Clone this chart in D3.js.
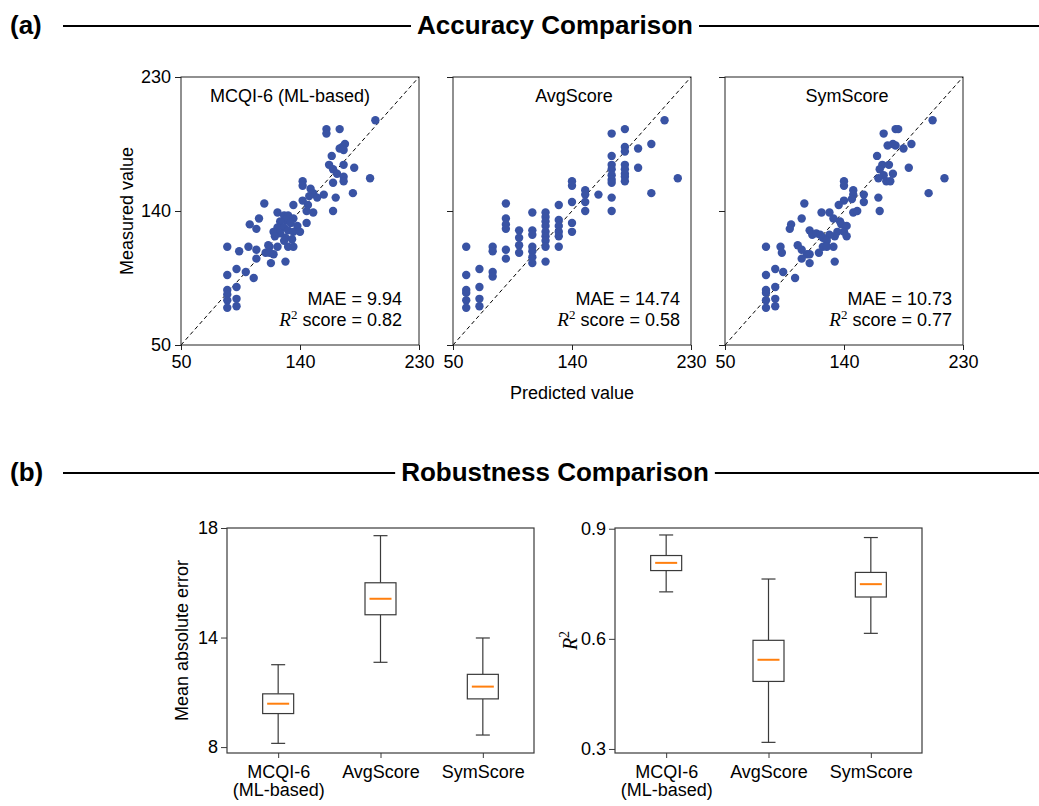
<!DOCTYPE html>
<html>
<head>
<meta charset="utf-8">
<script src="https://cdn.jsdelivr.net/npm/d3@7"></script>
<style>
body { margin: 0; background: #fff; }
text { font-family: "Liberation Sans", Arial, sans-serif; fill: #000; }
</style>
</head>
<body>
<script>
// Values.
var panelNames = ["MCQI-6 (ML-based)", "AvgScore", "SymScore"];
var maeVals = ["9.94", "14.74", "10.73"];
var r2Vals = ["0.82", "0.58", "0.77"];
var scatterTicks = [50, 140, 230];

var mcqiPred = [197,160,160,170,174,172,170,173,164,162,
                173,181,165,168,173,173,165,193,142,142,
                148,150,147,153,158,167,180,113,135,142,
                146,145,150,165,123,128,131,129,135,133,
                138,145,109,102,107,125,123,128,120,125,
                131,135,140,121,129,134,128,117,85,94,
                101,107,116,123,131,135,114,120,117,107,
                118,129,92,85,99,105,85,92,85,85,
                92,85,92];
var mcqiMeas = [201,195,192,195,185,183,182,181,177,171,
                171,169,168,165,163,160,159,162,160,157,
                155,152,150,149,151,149,152,145,144,147,
                144,140,139,140,139,137,137,134,135,132,
                130,132,135,131,128,133,129,129,126,125,
                127,126,126,123,122,121,120,116,116,113,
                116,114,117,116,116,116,112,111,112,108,
                105,106,101,97,99,95,87,89,84,80,
                81,75,76];

var avgPred = [210,180,170,200,190,180,180,170,170,180,
               190,180,180,180,170,170,170,170,220,200,
               170,170,140,140,150,150,160,150,150,140,
               130,140,140,120,120,120,120,120,120,120,
               120,130,130,130,130,130,110,110,110,110,
               110,110,110,120,100,100,100,100,90,90,
               90,90,90,90,80,80,80,80,70,70,
               70,70,60,60,60,60,60,60,180];
var avgMeas = [201,195,192,185,182,183,180,177,171,171,
               169,165,163,160,168,164,161,159,162,152,
               149,140,160,157,154,151,151,146,140,146,
               144,132,126,139,136,133,130,126,123,120,
               116,134,130,126,123,116,139,127,124,116,
               113,109,105,106,127,122,117,112,145,135,
               131,128,114,108,116,113,99,96,101,89,
               81,76,116,97,87,85,80,75,168];

var symPred = [207,179,181,170,173,177,179,191,185,165,
               169,174,189,167,177,170,166,172,175,216,
               204,140,140,147,147,155,140,136,146,155,
               166,147,150,167,110,123,129,132,137,138,
               142,140,142,135,133,129,100,99,108,114,
               116,119,122,124,127,124,121,132,127,81,
               92,93,105,108,112,114,108,114,133,88,
               81,94,103,81,88,81,81,88,81,88];
var symMeas = [201,195,195,192,184,185,184,185,182,177,
               171,171,169,168,165,164,162,160,160,162,
               152,160,157,154,151,151,147,144,148,146,
               149,139,140,140,145,139,139,135,133,131,
               130,126,123,126,123,124,131,128,135,127,
               124,125,124,122,120,116,112,116,116,116,
               116,112,117,114,111,111,108,105,106,101,
               97,99,95,87,89,85,80,81,75,76];

var boxLabels = [["MCQI-6", "(ML-based)"], ["AvgScore"], ["SymScore"]];
// [lower whisker, Q1, median, Q3, upper whisker]
var maeStats = [[8.17, 9.53, 9.98, 10.43, 11.76],
                [11.87, 14.04, 14.77, 15.50, 17.65],
                [8.55, 10.20, 10.76, 11.32, 12.98]];
var r2Stats = [[0.728, 0.786, 0.807, 0.827, 0.883],
               [0.318, 0.484, 0.543, 0.596, 0.763],
               [0.615, 0.714, 0.749, 0.781, 0.876]];
var maeTicks = [8, 13, 18];
var maeTickLabels = ["8", "14", "18"];
var r2Ticks = [0.3, 0.6, 0.9];

// Layout
var width = 1039, height = 806;
var scatterLeft = [181, 453, 725], scatterTop = 77, scatterW = 238, scatterH = 268;
var titleShift = [-10, 2, 3];
var annoRight = [17, 11, 11];
var boxLeft = [227, 615], boxTop = 528, boxW = 307, boxH = 225;
var dotColor = "#3953a4", boxStroke = "#3a3a3a";

var svg = d3.select("body").append("svg")
            .attr("width", width)
            .attr("height", height);

function styleAxis(g, col) {
  g.select(".domain").remove();
  g.selectAll(".tick line").attr("stroke", col);
  g.selectAll(".tick text").style("font-size", "18px").attr("fill", "#000");
}

function header(label, title, y) {
  svg.append("text").attr("x", 10).attr("y", y + 8)
     .style("font-size", "26px").style("font-weight", "bold").text(label);
  var t = svg.append("text").attr("x", 555).attr("y", y + 8)
             .attr("text-anchor", "middle")
             .style("font-size", "26px").style("font-weight", "bold").text(title);
  var len = t.node().getComputedTextLength();
  svg.append("line").attr("x1", 63).attr("x2", 555 - len / 2 - 6)
     .attr("y1", y).attr("y2", y).attr("stroke", "#000").attr("stroke-width", 2);
  svg.append("line").attr("x1", 555 + len / 2 + 6).attr("x2", width)
     .attr("y1", y).attr("y2", y).attr("stroke", "#000").attr("stroke-width", 2);
}

header("(a)", "Accuracy Comparison", 26);
header("(b)", "Robustness Comparison", 473);

// ---- (a) scatter panels ----
var xs = d3.scaleLinear().domain([50, 230]).range([0, scatterW]);
var ys = d3.scaleLinear().domain([50, 230]).range([scatterH, 0]);
var series = [[mcqiPred, mcqiMeas], [avgPred, avgMeas], [symPred, symMeas]];

series.forEach(function(s, i) {
  var g = svg.append("g")
             .attr("transform", "translate(" + scatterLeft[i] + "," + scatterTop + ")");
  var pts = s[0].map(function(p, k) { return {p: p, m: s[1][k]}; });

  g.append("g").attr("transform", "translate(0," + scatterH + ")")
   .call(d3.axisBottom(xs).tickValues(scatterTicks).tickSize(5).tickPadding(5).tickSizeOuter(0))
   .call(styleAxis, "#222");
  g.append("g")
   .call(d3.axisLeft(ys).tickValues(scatterTicks).tickSize(6).tickPadding(4).tickSizeOuter(0)
           .tickFormat(i === 0 ? d3.format("d") : ""))
   .call(styleAxis, "#222");

  g.append("line")
   .attr("x1", xs(50)).attr("y1", ys(50)).attr("x2", xs(230)).attr("y2", ys(230))
   .attr("stroke", "#000").attr("stroke-width", 1).attr("stroke-dasharray", "4,3");

  g.selectAll("circle").data(pts).enter().append("circle")
   .attr("cx", function(d) { return xs(d.p); })
   .attr("cy", function(d) { return ys(d.m); })
   .attr("r", 4.2)
   .attr("fill", dotColor);

  g.append("rect").attr("width", scatterW).attr("height", scatterH)
   .attr("fill", "none").attr("stroke", "#222").attr("stroke-width", 1);

  g.append("text").attr("x", scatterW / 2 + titleShift[i]).attr("y", 25)
   .attr("text-anchor", "middle").style("font-size", "18px").text(panelNames[i]);

  var ax = scatterW - annoRight[i];
  g.append("text").attr("x", ax).attr("y", 228).attr("text-anchor", "end")
   .style("font-size", "18px").text("MAE = " + maeVals[i]);
  var r2 = g.append("text").attr("x", ax).attr("y", 249).attr("text-anchor", "end")
            .style("font-size", "18px");
  r2.append("tspan").style("font-family", "'Liberation Serif', serif")
    .style("font-style", "italic").style("font-size", "19px").text("R");
  r2.append("tspan").attr("dy", -7).style("font-family", "'Liberation Serif', serif")
    .style("font-size", "13px").text("2");
  r2.append("tspan").attr("dy", 7).text(" score = " + r2Vals[i]);
});

svg.append("text")
   .attr("transform", "translate(133," + (scatterTop + scatterH / 2) + ") rotate(-90)")
   .attr("text-anchor", "middle").style("font-size", "18px").text("Measured value");
svg.append("text").attr("x", scatterLeft[1] + scatterW / 2).attr("y", 399)
   .attr("text-anchor", "middle").style("font-size", "18px").text("Predicted value");

// ---- (b) box plots ----
var bx = d3.scalePoint().domain([0, 1, 2]).range([0, boxW]).padding(0.5);
var boxSets = [
  {stats: maeStats, y: d3.scaleLinear().domain([7.73, 18]).range([boxH, 0]),
   ticks: maeTicks, fmt: function(d, k) { return maeTickLabels[k]; }},
  {stats: r2Stats, y: d3.scaleLinear().domain([0.289, 0.902]).range([boxH, 0]),
   ticks: r2Ticks, fmt: d3.format(".1f")}
];

boxSets.forEach(function(b, i) {
  var g = svg.append("g").attr("transform", "translate(" + boxLeft[i] + "," + boxTop + ")");
  var y = b.y;

  g.append("g").call(d3.axisLeft(y).tickValues(b.ticks).tickSize(6).tickPadding(3).tickFormat(b.fmt))
   .call(styleAxis, boxStroke);

  var xa = g.append("g").attr("transform", "translate(0," + boxH + ")")
            .call(d3.axisBottom(bx).tickSize(5).tickSizeOuter(0))
            .call(styleAxis, boxStroke);
  xa.selectAll(".tick text").each(function(d) {
    var t = d3.select(this).text(null).attr("y", 25).attr("dy", null);
    boxLabels[d].forEach(function(line, k) {
      t.append("tspan").attr("x", 0).attr("dy", k === 0 ? 0 : 18).text(line);
    });
  });

  var boxes = g.selectAll(".box").data(b.stats).enter().append("g")
               .attr("transform", function(d, k) { return "translate(" + bx(k) + ",0)"; });
  boxes.append("line").attr("y1", function(d) { return y(d[0]); }).attr("y2", function(d) { return y(d[1]); })
       .attr("stroke", boxStroke).attr("stroke-width", 1.2);
  boxes.append("line").attr("y1", function(d) { return y(d[3]); }).attr("y2", function(d) { return y(d[4]); })
       .attr("stroke", boxStroke).attr("stroke-width", 1.2);
  [0, 4].forEach(function(j) {
    boxes.append("line").attr("x1", -7).attr("x2", 7)
         .attr("y1", function(d) { return y(d[j]); }).attr("y2", function(d) { return y(d[j]); })
         .attr("stroke", boxStroke).attr("stroke-width", 1.2);
  });
  boxes.append("rect").attr("x", -15.5).attr("width", 31)
       .attr("y", function(d) { return y(d[3]); })
       .attr("height", function(d) { return y(d[1]) - y(d[3]); })
       .attr("fill", "#fff").attr("stroke", boxStroke).attr("stroke-width", 1.2);
  boxes.append("line").attr("x1", -11).attr("x2", 11)
       .attr("y1", function(d) { return y(d[2]); }).attr("y2", function(d) { return y(d[2]); })
       .attr("stroke", "#ff7f0e").attr("stroke-width", 2);

  g.append("rect").attr("width", boxW).attr("height", boxH)
   .attr("fill", "none").attr("stroke", boxStroke).attr("stroke-width", 1.2);
});

svg.append("text")
   .attr("transform", "translate(188," + (boxTop + boxH / 2) + ") rotate(-90)")
   .attr("text-anchor", "middle").style("font-size", "18px").text("Mean absolute error");
var r2Label = svg.append("text")
   .attr("transform", "translate(577," + (boxTop + boxH / 2) + ") rotate(-90)")
   .attr("text-anchor", "middle");
r2Label.append("tspan").style("font-family", "'Liberation Serif', serif")
       .style("font-style", "italic").style("font-size", "20px").text("R");
r2Label.append("tspan").attr("dy", -8).style("font-family", "'Liberation Serif', serif")
       .style("font-size", "14px").text("2");
</script>
</body>
</html>
